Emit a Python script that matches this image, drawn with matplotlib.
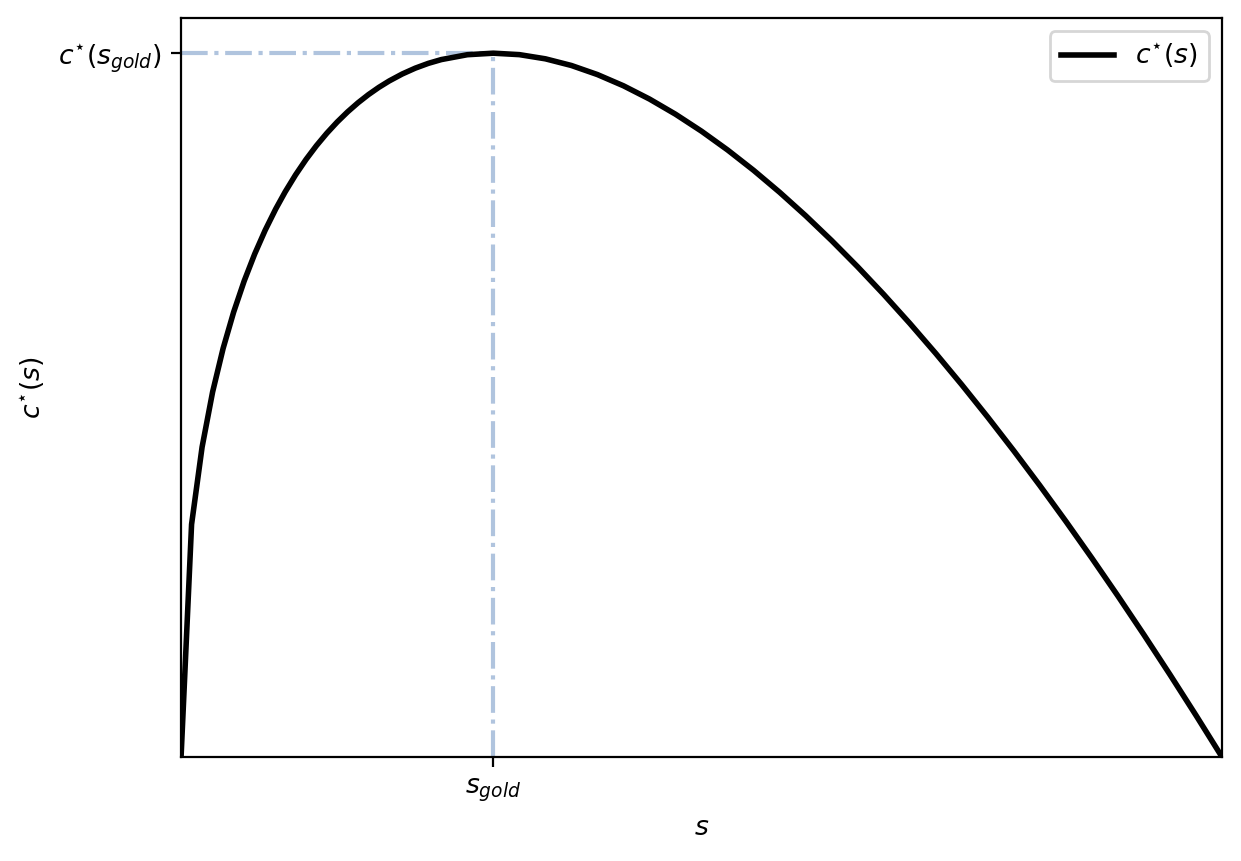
import numpy as np
import matplotlib
matplotlib.use('Agg')
import matplotlib.pyplot as plt

plt.rcParams['font.size'] = 9.6

# savings rate and steady state consumption (scaled so that the max is 1)
s_vals = [0.0, 0.0101, 0.0202, 0.0303, 0.0404, 0.0505, 0.0606, 0.0707, 0.0808, 0.0909, 0.1,
          0.11, 0.12, 0.13, 0.14, 0.15, 0.16, 0.17, 0.18, 0.19, 0.2, 0.2125, 0.225, 0.2375,
          0.25, 0.275, 0.3, 0.325, 0.35, 0.375,
          0.4, 0.425, 0.45, 0.475, 0.5, 0.525, 0.55, 0.575, 0.6, 0.625, 0.65, 0.675,
          0.7, 0.725, 0.75, 0.775, 0.8, 0.825, 0.85, 0.875, 0.9, 0.925, 0.95, 0.975, 1.0]
c_vals = [0.0, 0.33057, 0.44037, 0.51863, 0.58055, 0.63207, 0.67618, 0.71458, 0.74845, 0.77855, 0.80291,
          0.82710, 0.84888, 0.86852, 0.88624, 0.90223, 0.91662, 0.92955, 0.94113, 0.95144, 0.96058, 0.97046, 0.97874, 0.98553,
          0.99091, 0.99782, 1.0, 0.99794, 0.99199, 0.98251,
          0.96961, 0.95367, 0.93483, 0.91327, 0.88912, 0.86251, 0.83358, 0.80239, 0.76911, 0.73376, 0.69644, 0.65724,
          0.61622, 0.57343, 0.52893, 0.48277, 0.43501, 0.38568, 0.33484, 0.28252, 0.22876, 0.17360, 0.11706, 0.05919, 0.0]
s_gold = 0.3
c_gold = 1.0

fig = plt.figure(figsize=(6.205, 4.305), dpi=200)
ax = fig.add_axes([0.1459, 0.1208, 0.8388, 0.8583])

ax.plot([0, s_gold], [c_gold, c_gold], color='lightsteelblue', ls='-.', lw=1.5)
ax.plot([s_gold, s_gold], [0, c_gold], color='lightsteelblue', ls='-.', lw=1.5)
ax.plot(s_vals, c_vals, color='black', lw=2, label=r'$c^{\star}(s)$')

ax.set_xlim(0, 1)
ax.set_ylim(0, 1.05 * c_gold)
ax.set_xticks([s_gold])
ax.set_xticklabels([r'$s_{gold}$'])
ax.set_yticks([c_gold])
ax.set_yticklabels([r'$c^{\star}(s_{gold})$'])
ax.set_xlabel(r'$s$')
ax.set_ylabel(r'$c^{\star}(s)$')
ax.legend(loc='upper right')

fig.savefig('out.png', dpi=200)
